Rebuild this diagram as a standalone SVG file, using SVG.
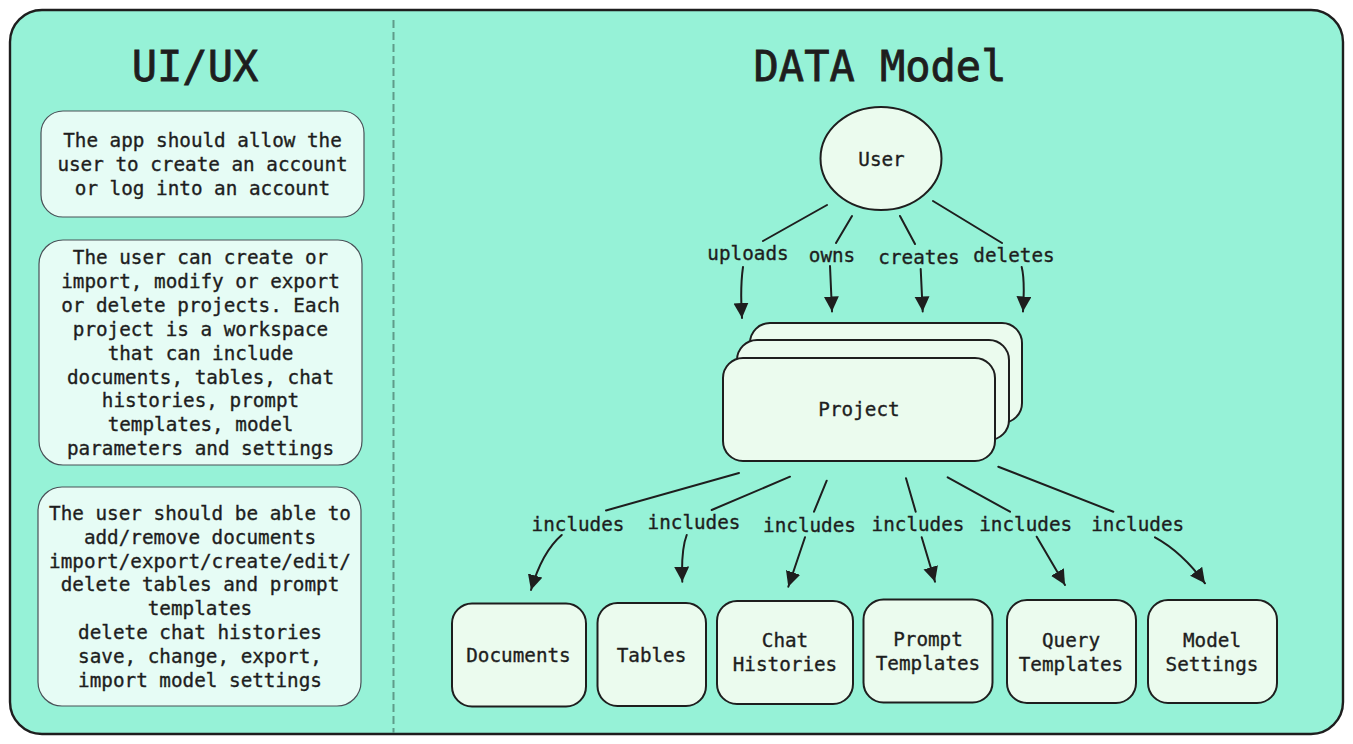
<svg xmlns="http://www.w3.org/2000/svg" width="1353" height="744" viewBox="0 0 1353 744">
<style>
text{font-family:"DejaVu Sans Mono","Liberation Mono",monospace;fill:#1e1e1e;text-anchor:middle;stroke:#1e1e1e;stroke-width:0.35}
.t{font-size:19.3px}
.title{font-size:42px;stroke-width:0.8}
.note{fill:#e6fcf5;stroke:#495057;stroke-width:1.2}
.node{fill:#ebfbee;stroke:#1e1e1e;stroke-width:2}
.edge{fill:none;stroke:#1e1e1e;stroke-width:2;stroke-linecap:round;marker-end:url(#ah)}
</style>
<defs>
<marker id="ah" markerUnits="userSpaceOnUse" markerWidth="16" markerHeight="16" refX="15" refY="7.5" orient="auto" viewBox="0 0 16 16">
<path d="M0,0 L15,7.5 L0,15 Z" fill="#1e1e1e"/>
</marker>
</defs>
<rect id="frame" x="10" y="10" width="1333" height="724" rx="32" fill="#96f2d7" stroke="#1e1e1e" stroke-width="2.4"/>
<line id="divider" x1="393.5" y1="20" x2="393.5" y2="733" stroke="#5f9c8a" stroke-width="2" stroke-dasharray="8,4"/>
<text class="title" x="195" y="81">UI/UX</text>
<text class="title" x="880" y="81">DATA Model</text>
<g id="note1">
<rect class="note" x="41" y="111" width="323" height="106" rx="22"/>
<text class="t" x="202.5" y="146.5">The app should allow the</text>
<text class="t" x="202.5" y="170.5">user to create an account</text>
<text class="t" x="202.5" y="194.5">or log into an account</text>
</g>
<g id="note2">
<rect class="note" x="39" y="240" width="323" height="225" rx="24"/>
<text class="t" x="200.5" y="263.5">The user can create or</text>
<text class="t" x="200.5" y="287.5">import, modify or export</text>
<text class="t" x="200.5" y="311.5">or delete projects. Each</text>
<text class="t" x="200.5" y="335.5">project is a workspace</text>
<text class="t" x="200.5" y="359.5">that can include</text>
<text class="t" x="200.5" y="383.5">documents, tables, chat</text>
<text class="t" x="200.5" y="406.5">histories, prompt</text>
<text class="t" x="200.5" y="430.5">templates, model</text>
<text class="t" x="200.5" y="454.5">parameters and settings</text>
</g>
<g id="note3">
<rect class="note" x="38" y="487" width="323" height="219" rx="24"/>
<text class="t" x="200" y="520">The user should be able to</text>
<text class="t" x="200" y="543.8">add/remove documents</text>
<text class="t" x="200" y="567.6">import/export/create/edit/</text>
<text class="t" x="200" y="591.4">delete tables and prompt</text>
<text class="t" x="200" y="615.2">templates</text>
<text class="t" x="200" y="639">delete chat histories</text>
<text class="t" x="200" y="662.8">save, change, export,</text>
<text class="t" x="200" y="686.6">import model settings</text>
</g>
<g id="user">
<ellipse class="node" cx="881" cy="158.5" rx="60.5" ry="51.5"/>
<text class="t" x="881.5" y="165.5">User</text>
</g>
<g id="project">
<rect class="node" x="750" y="323" width="272" height="100" rx="20"/>
<rect class="node" x="737" y="340" width="272" height="100" rx="20"/>
<rect class="node" x="723" y="358" width="272" height="103" rx="20"/>
<text class="t" x="859" y="416">Project</text>
</g>
<g id="documents">
<rect class="node" x="452" y="603.5" width="134" height="103" rx="20"/>
<text class="t" x="518.5" y="661.5">Documents</text>
</g>
<g id="tables">
<rect class="node" x="597.5" y="603" width="108.5" height="103" rx="20"/>
<text class="t" x="651.5" y="661.5">Tables</text>
</g>
<g id="chat">
<rect class="node" x="717" y="601" width="136" height="103" rx="20"/>
<text class="t" x="785" y="647">Chat</text>
<text class="t" x="785" y="670.5">Histories</text>
</g>
<g id="prompt">
<rect class="node" x="863.5" y="599.5" width="129" height="103" rx="20"/>
<text class="t" x="928" y="646">Prompt</text>
<text class="t" x="928" y="669.5">Templates</text>
</g>
<g id="query">
<rect class="node" x="1007" y="600" width="129" height="103" rx="20"/>
<text class="t" x="1071" y="647">Query</text>
<text class="t" x="1071" y="670.5">Templates</text>
</g>
<g id="model">
<rect class="node" x="1148" y="600" width="129" height="103" rx="20"/>
<text class="t" x="1212" y="647">Model</text>
<text class="t" x="1212" y="670.5">Settings</text>
</g>
<g id="connectors">
<path class="edge" d="M827,205 L763,241 M743,267 Q740,288 742,318"/>
<path class="edge" d="M852,216 L836,243 M830,266 L832,311.5"/>
<path class="edge" d="M900,216 L915,244 M920.7,269 L922.7,311.5"/>
<path class="edge" d="M933,201 L1002,243 M1021.7,267 Q1025,280 1023,311.5"/>
<path class="edge" d="M739,473 L606,510.5 M561.7,535 Q542,552 531,590"/>
<path class="edge" d="M790,476.7 L711.7,510 M686.7,535 Q681,550 682.3,581.7"/>
<path class="edge" d="M826.7,480.7 L814,511.7 M805,537.3 L788.3,586.7"/>
<path class="edge" d="M906,478.3 L915.7,511.7 M921.7,537.3 L935,581.7"/>
<path class="edge" d="M947.7,477.3 L1010,511.7 M1036.7,536.7 L1065,585"/>
<path class="edge" d="M998.3,466.7 L1113.3,511.7 M1155,537.3 Q1182,552 1205,583.3"/>
<text class="t" x="748" y="260">uploads</text>
<text class="t" x="832" y="261.5">owns</text>
<text class="t" x="919" y="264">creates</text>
<text class="t" x="1014" y="262">deletes</text>
<text class="t" x="578" y="530.5">includes</text>
<text class="t" x="694" y="529.3">includes</text>
<text class="t" x="809.5" y="531.5">includes</text>
<text class="t" x="918" y="530.5">includes</text>
<text class="t" x="1025.7" y="530.5">includes</text>
<text class="t" x="1137.7" y="530.5">includes</text>
</g>
</svg>
